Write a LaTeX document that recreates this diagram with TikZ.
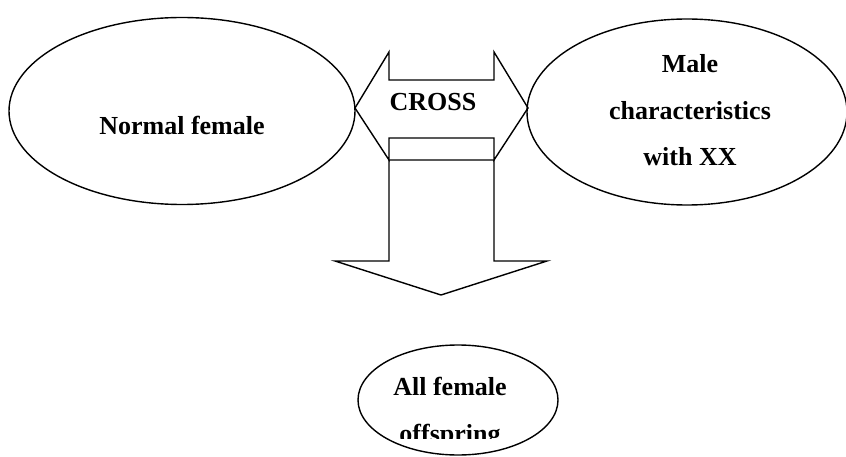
\documentclass[tikz,border=0pt]{standalone}
\usepackage{fontspec}
\setmainfont{Liberation Serif}
\usetikzlibrary{shapes.geometric}
\begin{document}
\begin{tikzpicture}[x=1pt,y=-1pt,
  outline/.style={draw=black,line width=1.4pt,line join=miter},
  oval/.style={outline,ellipse,inner sep=0pt},
  lbl/.style={font=\fontsize{26}{30}\selectfont\bfseries,anchor=base,inner sep=0pt}]
\useasboundingbox (0,0) rectangle (846,457);
% ellipses
\node[oval,minimum width=346pt,minimum height=187pt] (nf) at (182,111) {};
\node[oval,minimum width=320pt,minimum height=186pt] (mc) at (687,112) {};
\node[oval,minimum width=200pt,minimum height=110pt] (af) at (458,400) {};
% texts
\node[lbl] (t1) at (182,135) {Normal female};
\node[lbl] (t2) at (690,73) {Male};
\node[lbl] (t3) at (690,120) {characteristics};
\node[lbl] (t4) at (690,166) {with XX};
\node[lbl] (t5) at (450,395) {All female};
\begin{scope}
\clip (300,300) rectangle (600,438);
\node[lbl] (t6) at (450,442) {offspring};
\end{scope}
% double arrow CROSS
\coordinate (lt) at (355,108);
\coordinate (rt) at (528,108);
\draw[outline] (lt) -- (389,52) -- (389,80) -- (494,80) -- (494,52) -- (rt)
  -- (494,160) -- (494,138) -- (389,138) -- (389,160) -- cycle;
\node[lbl] (cross) at (433,111) {CROSS};
% down arrow
\coordinate (tip) at (441,295);
\draw[outline] (389,160) -- (494,160) -- (494,261) -- (547,261) -- (tip)
  -- (335,261) -- (389,261) -- cycle;
\end{tikzpicture}
\end{document}
